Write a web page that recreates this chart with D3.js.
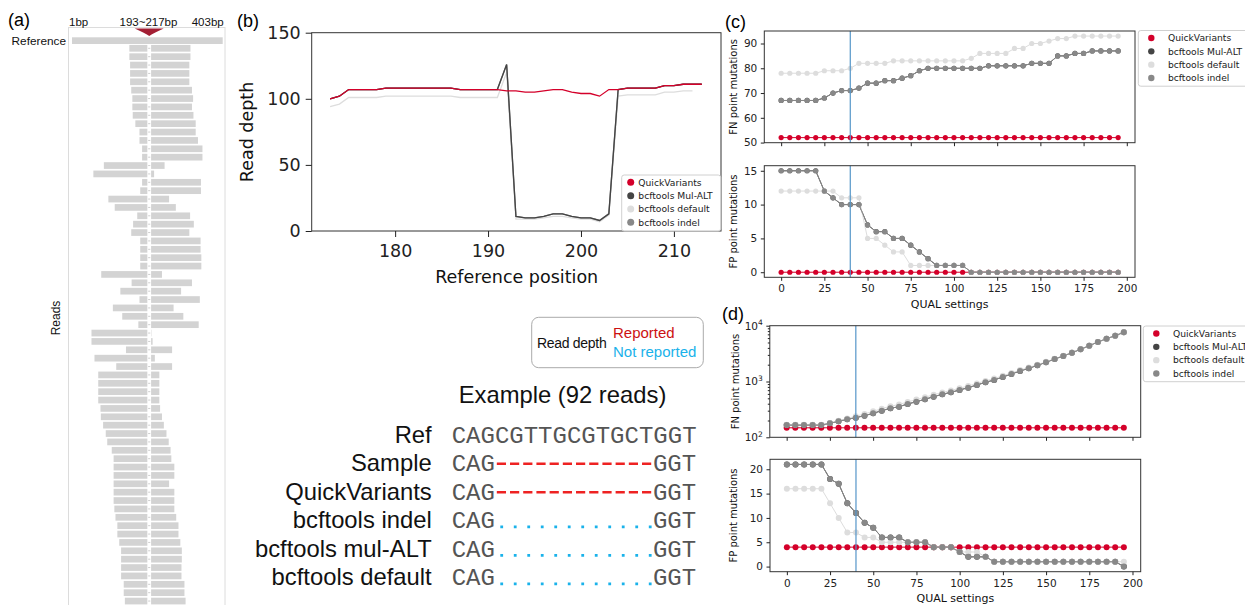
<!DOCTYPE html>
<html>
<head>
<meta charset="utf-8">
<script src="https://cdn.jsdelivr.net/npm/d3@7"></script>
<style>
body { margin: 0; background: #fff; }
svg { display: block; }
</style>
</head>
<body>
<script>
// ---------- panel (a): reads around the deletion ----------
var refRange = [1, 403];
var refLabels = ["1bp", "193~217bp", "403bp"];
var delStart = 202, delEnd = 212;   // gap as drawn, in bp
var readStart = [154,154,156,156,156,159,162,162,163,170,181,181,188,188,86,58,188,183,98,115,
                 175,164,159,183,183,183,183,79,160,130,181,110,135,178,53,53,145,61,119,71,
                 71,71,71,77,78,84,91,95,107,112,112,112,112,112,112,114,117,122,122,127,
                 132,132,132,132,139,139,142];
var readEnd   = [317,317,314,314,314,321,324,321,325,331,331,337,349,349,248,220,345,345,260,278,
                 316,326,314,344,344,346,346,241,321,292,342,272,298,339,213,216,268,222,268,234,
                 234,234,234,236,241,246,253,259,264,266,274,274,260,274,274,274,279,285,285,290,
                 294,294,293,293,301,301,304];

// ---------- panel (b): read depth ----------
var depthPos = [173,174,175,176,177,178,179,180,181,182,183,184,185,186,187,188,189,190,191,192,
                193,194,195,196,197,198,199,200,201,202,203,204,205,206,207,208,209,210,211,212,213];
var depthQuick = [100,102,107,107,107,107,108,108,108,108,108,108,108,108,107,107,107,107,107,106,
                  106,105,105,106,107,107,105,104,104,102,107,107,108,108,108,108,110,110,111,111,111];
var depthMulAlt = [100,102,107,107,107,107,108,108,108,108,108,108,108,108,107,107,107,107,107,126,
                   11,10,10,11,13,13,11,10,10,8,13,107,108,108,108,108,110,110,111,111,111];
var depthDefault = [94,96,101,101,101,101,102,102,102,102,102,102,102,102,101,101,101,101,101,120,
                    9,9,9,10,11,11,10,9,9,7,12,102,103,103,103,103,105,105,106,106];
var depthIndel = [100,102,107,107,107,107,108,108,108,108,108,108,108,108,107,107,107,107,107,126,
                  11,10,10,11,13,13,11,10,10,8,13,107,108,108,108,108,110,110,111,111,111];
var depthTicksY = [0, 50, 100, 150];
var depthTicksX = [180, 190, 200, 210];

var seriesNames = ["QuickVariants", "bcftools Mul-ALT", "bcftools default", "bcftools indel"];
var seriesColors = ["#d4002a", "#444444", "#dddddd", "#888888"];

// ---------- panels (c) and (d): QUAL sweeps ----------
var qual = [0,5,10,15,20,25,30,35,40,45,50,55,60,65,70,75,80,85,90,95,
            100,105,110,115,120,125,130,135,140,145,150,155,160,165,170,175,180,185,190,195];
var qualMark = 40;
var qualTicks = [0,25,50,75,100,125,150,175,200];

var fnQuickC = [52,52,52,52,52,52,52,52,52,52,52,52,52,52,52,52,52,52,52,52,
                52,52,52,52,52,52,52,52,52,52,52,52,52,52,52,52,52,52,52,52];
var fnMulAltC = [67,67,67,67,67,68,70,71,71,72,74,74,75,75,76,77,79,80,80,80,
                 80,80,80,80,81,81,81,81,81,82,82,82,85,85,86,86,87,87,87,87];
var fnDefaultC = [78,78,78,78,78,79,79,79,80,82,82,82,82,83,83,83,83,83,83,83,
                  83,83,84,86,86,86,86,88,88,90,90,91,92,92,93,93,93,93,93,93];
var fnIndelC = [67,67,67,67,67,68,70,71,71,72,74,74,75,75,76,77,79,80,80,80,
                80,80,80,80,81,81,81,81,81,82,82,82,85,85,86,86,87,87,87,87];

var fpQuickC = [0,0,0,0,0,0,0,0,0,0,0,0,0,0,0,0,0,0,0,0,
                0,0,0,0,0,0,0,0,0,0,0,0,0,0,0,0,0,0,0,0];
var fpMulAltC = [15,15,15,15,15,12,11,10,10,10,7,6,6,5,5,4,3,2,1,1,
                 1,1,0,0,0,0,0,0,0,0,0,0,0,0,0,0,0,0,0,0];
var fpDefaultC = [12,12,12,12,12,12,12,11,11,11,5,5,4,3,3,1,1,1,1,1,
                  1,1,0,0,0,0,0,0,0,0,0,0,0,0,0,0,0,0,0,0];
var fpIndelC = [15,15,15,15,15,12,11,10,10,10,7,6,6,5,5,4,3,2,1,1,
                1,1,0,0,0,0,0,0,0,0,0,0,0,0,0,0,0,0,0,0];

var fnQuickD = [148,148,148,148,148,148,148,148,148,148,148,148,148,148,148,148,148,148,148,148,
                148,148,148,148,148,148,148,148,148,148,148,148,148,148,148,148,148,148,148,148];
var fnMulAltD = [166,166,166,166,166,178,194,210,225,244,269,300,331,354,395,435,480,535,589,640,
                 704,776,866,966,1064,1205,1362,1543,1722,1950,2205,2530,2863,3284,3767,4385,5097,5846,6623,7607];
var fnDefaultD = [168,168,168,168,168,180,198,218,238,262,292,326,360,388,430,474,522,580,636,690,
                  758,832,924,1026,1128,1270,1420,1600,1780,2000,2250,2560,2890,3300,3780,4390,5100,5850,6630,7600];
var fnIndelD = [166,166,166,166,166,178,194,210,225,244,269,300,331,354,395,435,480,535,589,640,
                704,776,866,966,1064,1205,1362,1543,1722,1950,2205,2530,2863,3284,3767,4385,5097,5846,6623,7607];

var fpQuickD = [4,4,4,4,4,4,4,4,4,4,4,4,4,4,4,4,4,4,4,4,
                4,4,4,4,4,4,4,4,4,4,4,4,4,4,4,4,4,4,4,4];
var fpMulAltD = [21,21,21,21,21,18,17,13,11,9,8,6,6,6,5,5,5,4,4,4,
                 3,2,2,2,1,1,1,1,1,1,1,1,1,1,1,1,1,1,1,0];
var fpDefaultD = [16,16,16,16,16,13,10,7,7,6,6,5,5,5,5,5,5,4,4,4,
                  3,3,3,2,1,1,1,1,1,1,1,1,1,1,1,1,1,1,1,1];
var fpIndelD = [21,21,21,21,21,18,17,13,11,9,8,6,6,6,5,5,5,4,4,4,
                3,2,2,2,1,1,1,1,1,1,1,1,1,1,1,1,1,1,1,0];

// ---------- example alignment ----------
var exampleTitle = "Example (92 reads)";
var exampleLabels = ["Ref", "Sample", "QuickVariants", "bcftools indel", "bcftools mul-ALT", "bcftools default"];
var exampleRef = "CAGCGTTGCGTGCTGGT";
var exampleKind = ["ref", "dash", "dash", "dot", "dot", "dot"];

var MPL = "'DejaVu Sans', sans-serif";
var HEL = "'Liberation Sans', Arial, sans-serif";

var svg = d3.select("body").append("svg")
    .attr("width", 1245).attr("height", 605)
    .style("font-family", HEL);

function styleAxis(g, size) {
    g.select(".domain").remove();
    g.selectAll(".tick line").attr("stroke", "#222");
    g.selectAll(".tick text").attr("fill", "#222")
        .style("font-family", MPL).style("font-size", size + "px");
}

// ================= (a) =================
(function () {
    var x = d3.scaleLinear().domain(refRange).range([72, 222.7]);
    var y = d3.scaleLinear().domain([0, 1]).range([48.3, 56.675]);
    var g = svg.append("g");
    var h = 6.7;

    g.append("text").attr("x", 8).attr("y", 26).style("font-size", "18px").text("(a)");
    g.append("rect").attr("x", 68.5).attr("y", 27.5).attr("width", 156.5).attr("height", 600)
        .attr("fill", "none").attr("stroke", "#dcdcdc");

    var lx = [x(1) - 3, x((193 + 217) / 2), x(403) - 15];
    g.selectAll(".pl").data(refLabels).enter().append("text")
        .attr("x", function (d, i) { return lx[i]; })
        .attr("y", 25.5)
        .attr("text-anchor", function (d, i) { return i === 0 ? "start" : "middle"; })
        .style("font-size", "11.5px").attr("fill", "#111")
        .text(function (d) { return d; });

    g.append("text").attr("x", 66).attr("y", 44.5).attr("text-anchor", "end")
        .style("font-size", "11.8px").attr("fill", "#111").text("Reference");
    g.append("rect").attr("x", x(1)).attr("y", 37.3).attr("width", x(403) - x(1)).attr("height", h)
        .attr("fill", "#d3d3d3");

    var cx = x((delStart + delEnd) / 2);
    g.append("path")
        .attr("d", "M" + (cx - 14.5) + ",28.6 L" + (cx + 14.5) + ",28.6 Q" + (cx + 5) + ",33 " + cx + ",36 Q" + (cx - 5) + ",33 " + (cx - 14.5) + ",28.6 Z")
        .attr("fill", "#a31f34");

    var rows = g.selectAll(".read").data(readStart).enter().append("g")
        .attr("transform", function (d, i) { return "translate(0," + (y(i) - h / 2) + ")"; });
    rows.filter(function (d) { return d < delStart; }).append("rect")
        .attr("x", function (d) { return x(d); })
        .attr("y", 0)
        .attr("width", function (d) { return x(delStart) - x(d); })
        .attr("height", h).attr("fill", "#d3d3d3");
    rows.each(function (s, i) {
        var e = readEnd[i];
        var r = d3.select(this);
        if (e > delEnd) {
            r.append("rect").attr("x", x(delEnd)).attr("y", 0)
                .attr("width", x(e) - x(delEnd)).attr("height", h).attr("fill", "#d3d3d3");
        }
        r.append("line").attr("x1", x(delStart) + 0.8).attr("x2", Math.min(x(delEnd), x(e)) - 0.8)
            .attr("y1", h / 2).attr("y2", h / 2).attr("stroke", "#cfcfcf").attr("stroke-width", 1);
    });

    g.append("text").attr("transform", "translate(60,318) rotate(-90)")
        .attr("text-anchor", "middle").style("font-size", "12px").attr("fill", "#111").text("Reads");
})();

// ================= (b) =================
(function () {
    var b = { l: 311.7, r: 721, t: 32.7, b: 231 };
    var x = d3.scaleLinear().domain([171.02, 215.07]).range([b.l, b.r]);
    var y = d3.scaleLinear().domain([0, 150]).range([b.b, b.t]);
    var g = svg.append("g");

    g.append("text").attr("x", 237).attr("y", 27).style("font-size", "18px").text("(b)");

    var line = d3.line().x(function (d, i) { return x(depthPos[i]); }).y(function (d) { return y(d); });
    var order = [[depthDefault, 2], [depthIndel, 3], [depthMulAlt, 1], [depthQuick, 0]];
    order.forEach(function (o) {
        g.append("path").datum(o[0]).attr("d", line).attr("fill", "none")
            .attr("stroke", seriesColors[o[1]]).attr("stroke-width", 1.3);
    });

    g.append("rect").attr("x", b.l).attr("y", b.t).attr("width", b.r - b.l).attr("height", b.b - b.t)
        .attr("fill", "none").attr("stroke", "#333").attr("stroke-width", 1);

    g.append("g").attr("transform", "translate(" + b.l + ",0)")
        .call(d3.axisLeft(y).tickValues(depthTicksY).tickSize(6).tickPadding(5))
        .call(function (a) { styleAxis(a, 17.5); });
    g.append("g").attr("transform", "translate(0," + b.b + ")")
        .call(d3.axisBottom(x).tickValues(depthTicksX).tickSize(6).tickPadding(8))
        .call(function (a) { styleAxis(a, 17.5); });

    g.append("text").attr("transform", "translate(253,132) rotate(-90)").attr("text-anchor", "middle")
        .style("font-family", MPL).style("font-size", "17.5px").attr("fill", "#111").text("Read depth");
    g.append("text").attr("x", 516.7).attr("y", 283).attr("text-anchor", "middle")
        .style("font-family", MPL).style("font-size", "17.5px").attr("fill", "#111").text("Reference position");

    // legend
    var lg = g.append("g");
    lg.append("rect").attr("x", 621.7).attr("y", 175).attr("width", 99).attr("height", 56).attr("rx", 2.5)
        .attr("fill", "#fff").attr("fill-opacity", 0.85).attr("stroke", "#d0d0d0");
    var it = lg.selectAll(".it").data(seriesNames).enter().append("g")
        .attr("transform", function (d, i) { return "translate(630.7," + (182.3 + i * 13.35) + ")"; });
    it.append("circle").attr("r", 3.5).attr("fill", function (d, i) { return seriesColors[i]; });
    it.append("text").attr("x", 7.6).attr("dy", "0.35em").style("font-family", MPL)
        .style("font-size", "9.2px").attr("fill", "#222").text(function (d) { return d; });
})();

// ================= (c), (d) =================
function qualPanel(b, y, sets, showX, yLabel, r, yTicks, yFmt) {
    var g = svg.append("g");
    var x = d3.scaleLinear().domain([-9.75, 204.75]).range([b.l, b.r]);
    var line = d3.line().x(function (d, i) { return x(qual[i]); }).y(function (d) { return y(d); });
    sets.forEach(function (s, k) {
        var c = seriesColors[k];
        g.append("path").datum(s).attr("d", line).attr("fill", "none").attr("stroke", c).attr("stroke-width", 1);
        g.selectAll(null).data(s).enter().append("circle")
            .attr("cx", function (d, i) { return x(qual[i]); })
            .attr("cy", function (d) { return y(d); })
            .attr("r", r).attr("fill", c);
    });
    g.append("line").attr("x1", x(qualMark)).attr("x2", x(qualMark)).attr("y1", b.t).attr("y2", b.b)
        .attr("stroke", "#5596c9").attr("stroke-width", 1.2);
    g.append("rect").attr("x", b.l).attr("y", b.t).attr("width", b.r - b.l).attr("height", b.b - b.t)
        .attr("fill", "none").attr("stroke", "#333").attr("stroke-width", 1);

    var xa = d3.axisBottom(x).tickValues(qualTicks).tickSize(3.5).tickPadding(4);
    if (!showX) xa.tickFormat("");
    g.append("g").attr("transform", "translate(0," + b.b + ")").call(xa)
        .call(function (a) { styleAxis(a, 10.5); });
    var ya = d3.axisLeft(y).tickValues(yTicks).tickSize(3.5).tickPadding(3.5);
    if (yFmt) ya.tickFormat(function () { return ""; });
    var yg = g.append("g").attr("transform", "translate(" + b.l + ",0)").call(ya)
        .call(function (a) { styleAxis(a, 10.5); });
    if (yFmt) {
        yg.selectAll(".tick text").each(function (d) {
            var t = d3.select(this);
            t.append("tspan").text("10");
            t.append("tspan").attr("dy", "-0.6em").style("font-size", "7.5px").text(String(Math.round(Math.log10(d))));
        });
        // minor log ticks
        g.append("g").attr("transform", "translate(" + b.l + ",0)")
            .call(d3.axisLeft(y).tickValues(y.ticks().filter(function (v) {
                return Math.abs(Math.log10(v) - Math.round(Math.log10(v))) > 1e-6;
            })).tickSize(2).tickFormat(""))
            .call(function (a) { styleAxis(a, 10); });
    }
    g.append("text").attr("transform", "translate(" + b.yl + "," + ((b.t + b.b) / 2) + ") rotate(-90)")
        .attr("text-anchor", "middle").attr("dy", "0.35em")
        .style("font-family", MPL).style("font-size", "10px").attr("fill", "#111").text(yLabel);
    if (showX) {
        g.append("text").attr("x", (b.l + b.r) / 2).attr("y", b.xl).attr("text-anchor", "middle")
            .style("font-family", MPL).style("font-size", "11px").attr("fill", "#111").text("QUAL settings");
    }
    return g;
}

function qualLegend(lx, ly) {
    var lg = svg.append("g");
    lg.append("rect").attr("x", lx).attr("y", ly).attr("width", 130).attr("height", 55.7).attr("rx", 2.5)
        .attr("fill", "#fff").attr("stroke", "#d0d0d0");
    var it = lg.selectAll(".it").data(seriesNames).enter().append("g")
        .attr("transform", function (d, i) { return "translate(" + (lx + 13) + "," + (ly + 7.5 + i * 13.33) + ")"; });
    it.append("circle").attr("r", 3.2).attr("fill", function (d, i) { return seriesColors[i]; });
    it.append("text").attr("x", 16.6).attr("dy", "0.35em").style("font-family", MPL)
        .style("font-size", "9.2px").attr("fill", "#222").text(function (d) { return d; });
}

svg.append("text").attr("x", 725).attr("y", 28).style("font-size", "18px").text("(c)");
var bC1 = { l: 764.3, r: 1135, t: 31, b: 142.7, yl: 733 };
qualPanel(bC1, d3.scaleLinear().domain([49.95, 95.05]).range([bC1.b, bC1.t]),
    [fnQuickC, fnMulAltC, fnDefaultC, fnIndelC], false, "FN point mutations", 2.6, [50, 60, 70, 80, 90]);
qualLegend(1138.3, 30.5);

var bC2 = { l: 764.3, r: 1135, t: 165.7, b: 277.3, yl: 733, xl: 307.5 };
qualPanel(bC2, d3.scaleLinear().domain([-0.75, 15.75]).range([bC2.b, bC2.t]),
    [fpQuickC, fpMulAltC, fpDefaultC, fpIndelC], true, "FP point mutations", 2.6, [0, 5, 10, 15]);

svg.append("text").attr("x", 722).attr("y", 320).style("font-size", "18px").text("(d)");
var bD1 = { l: 769.8, r: 1140.7, t: 325.7, b: 437.3, yl: 735 };
qualPanel(bD1, d3.scaleLog().domain([100, 10000]).range([bD1.b, bD1.t]),
    [fnQuickD, fnMulAltD, fnDefaultD, fnIndelD], false, "FN point mutations", 3, [100, 1000, 10000], true);
qualLegend(1143.3, 326);

var bD2 = { l: 770, r: 1140.7, t: 459.3, b: 571.7, yl: 733, xl: 601.5 };
qualPanel(bD2, d3.scaleLinear().domain([-1.05, 22.05]).range([bD2.b, bD2.t]),
    [fpQuickD, fpMulAltD, fpDefaultD, fpIndelD], true, "FP point mutations", 3, [0, 5, 10, 15, 20]);

// ================= read depth key + example =================
(function () {
    var g = svg.append("g");
    g.append("rect").attr("x", 531.7).attr("y", 317.3).attr("width", 171.6).attr("height", 50.4).attr("rx", 7)
        .attr("fill", "none").attr("stroke", "#aaa");
    g.append("text").attr("x", 537).attr("y", 347.5).style("font-size", "14px")
        .style("letter-spacing", "-0.3px").attr("fill", "#111").text("Read depth");
    g.append("text").attr("x", 613).attr("y", 337.5).style("font-size", "15px").attr("fill", "#cc1111").text("Reported");
    g.append("text").attr("x", 613).attr("y", 357).style("font-size", "15px").attr("fill", "#1ab2ea").text("Not reported");

    g.append("text").attr("x", 562.5).attr("y", 402.5).attr("text-anchor", "middle")
        .style("font-size", "23.8px").attr("fill", "#111").text(exampleTitle);

    var rowY = d3.scaleLinear().domain([0, 5]).range([442.7, 585]);
    var cw = 14.37, sx = 451.7;
    var rows = g.selectAll(".ex").data(exampleLabels).enter().append("g");
    rows.append("text").attr("x", 431.7).attr("y", function (d, i) { return rowY(i); })
        .attr("text-anchor", "end").style("font-size", "23.8px").attr("fill", "#111")
        .text(function (d) { return d; });
    rows.each(function (d, i) {
        var r = d3.select(this), yy = rowY(i), kind = exampleKind[i];
        var seq = kind === "ref" ? exampleRef : exampleRef.slice(0, 3);
        r.append("text").attr("x", sx).attr("y", yy)
            .style("font-family", "'Liberation Mono', 'Courier New', monospace")
            .style("font-size", "24px").attr("fill", "#555").text(seq);
        if (kind !== "ref") {
            r.append("text").attr("x", sx + cw * 14).attr("y", yy)
                .style("font-family", "'Liberation Mono', 'Courier New', monospace")
                .style("font-size", "24px").attr("fill", "#555").text(exampleRef.slice(14));
        }
        if (kind === "dash") {
            r.append("line").attr("x1", sx + cw * 3 + 2).attr("x2", sx + cw * 14).attr("y1", yy - 7.4).attr("y2", yy - 7.4)
                .attr("stroke", "#ee2222").attr("stroke-width", 2.6).attr("stroke-dasharray", "9.2,4");
        }
        if (kind === "dot") {
            r.append("line").attr("x1", sx + cw * 3 + 5.5).attr("x2", sx + cw * 14).attr("y1", yy - 1.2).attr("y2", yy - 1.2)
                .attr("stroke", "#1ab2ea").attr("stroke-width", 2.8).attr("stroke-dasharray", "2.8,10.7");
        }
    });
})();
</script>
</body>
</html>
